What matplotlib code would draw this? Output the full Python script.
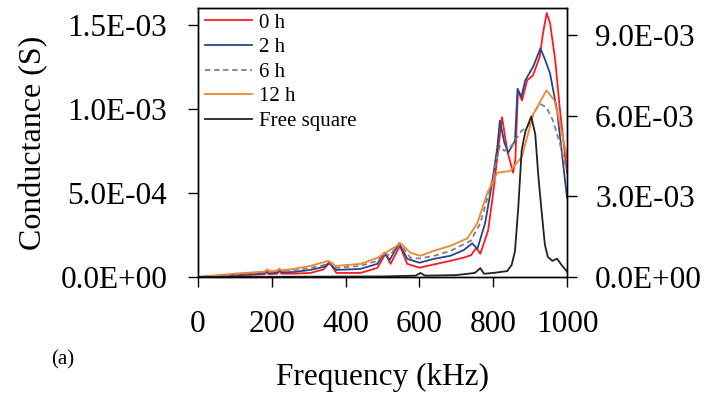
import numpy as np
import matplotlib
matplotlib.use("Agg")
import matplotlib.pyplot as plt
from matplotlib.ticker import FuncFormatter

plt.rcParams['font.family'] = ['Liberation Serif', 'DejaVu Serif']

# conductance on the left axis, values in 1E-04 S
freq_0h = [0, 100, 180, 186, 192, 215, 220, 226, 260, 305, 340, 357, 375, 440, 486, 508, 522, 547, 567, 600,
           640, 684, 720, 740, 754, 765, 786, 800, 814, 824, 838, 854, 860, 867, 878, 892, 908, 926, 935, 945,
           954, 968, 981, 1000]
g_0h = [0, 0.08, 0.16, 0.3, 0.16, 0.2, 0.35, 0.2, 0.2, 0.24, 0.45, 0.84, 0.24, 0.24, 0.54, 1.38, 0.78, 1.85, 0.78, 0.55,
        0.75, 0.96, 1.15, 1.3, 1.73, 1.38, 2.75, 5.0, 7.7, 9.5, 7.5, 6.2, 7.0, 11.1, 10.5, 11.7, 12.0, 13.1, 14.5, 15.7,
        15.1, 12.9, 9.9, 6.2]

freq_2h = [0, 100, 180, 186, 192, 215, 220, 226, 260, 305, 340, 355, 375, 440, 486, 505, 519, 545, 567, 600,
           640, 684, 720, 743, 757, 778, 797, 811, 818, 830, 841, 859, 866, 876, 887, 908, 928, 941, 954, 973, 1000]
g_2h = [0, 0.12, 0.22, 0.35, 0.22, 0.28, 0.42, 0.28, 0.3, 0.42, 0.6, 0.84, 0.42, 0.48, 0.78, 1.44, 1.0, 2.0, 1.08, 0.85,
        1.08, 1.26, 1.6, 2.0, 1.67, 3.2, 5.6, 7.7, 9.3, 8.0, 7.4, 8.1, 11.2, 10.7, 11.7, 12.5, 13.6, 12.9, 12.1, 9.9, 4.7]

freq_6h = [0, 100, 180, 186, 192, 215, 220, 226, 260, 305, 340, 355, 375, 440, 486, 505, 519, 545, 576, 600,
           640, 684, 739, 765, 792, 805, 818, 830, 850, 877, 892, 908, 926, 944, 962, 980, 1000]
g_6h = [0, 0.15, 0.28, 0.4, 0.28, 0.34, 0.48, 0.34, 0.38, 0.54, 0.7, 0.9, 0.54, 0.66, 0.96, 1.44, 1.26, 2.0, 1.14, 1.1,
        1.26, 1.55, 2.15, 3.2, 5.3, 6.6, 7.8, 7.5, 7.8, 8.7, 8.9, 9.7, 10.3, 10.1, 9.3, 8.0, 6.3]

freq_12h = [0, 100, 180, 189, 195, 215, 220, 226, 259, 305, 324, 354, 373, 441, 486, 508, 530, 549, 576, 603,
            638, 684, 730, 757, 784, 811, 846, 868, 877, 909, 944, 966, 981, 1000]
g_12h = [0, 0.2, 0.32, 0.45, 0.34, 0.38, 0.5, 0.4, 0.48, 0.66, 0.78, 0.96, 0.66, 0.78, 1.14, 1.44, 1.73, 2.0, 1.44, 1.26,
         1.55, 1.85, 2.3, 3.2, 5.0, 6.2, 6.3, 6.9, 7.1, 9.7, 11.1, 10.5, 9.1, 7.1]

# free square on the right axis, values in 1E-03 S
freq_free = [0, 500, 590, 603, 615, 700, 750, 765, 775, 800, 838, 850, 859, 868, 877, 887, 903, 914, 922, 930,
             940, 948, 960, 973, 985, 1000]
g_free = [0, 0.02, 0.05, 0.15, 0.05, 0.07, 0.15, 0.33, 0.12, 0.15, 0.22, 0.45, 0.96, 2.6, 4.7, 5.4, 5.96, 5.3, 3.8, 2.6,
          1.2, 0.75, 0.6, 0.68, 0.45, 0.2]

left_ticks = [0, 5e-4, 1e-3, 1.5e-3]
right_ticks = [0, 3e-3, 6e-3, 9e-3]
x_ticks = [0, 200, 400, 600, 800, 1000]

fig = plt.figure(figsize=(7.11, 3.97), dpi=100)
ax = fig.add_axes([0.2785, 0.3023, 0.519, 0.6776])
ax2 = ax.twinx()

lw = 1.3
l0, = ax.plot(freq_0h, np.array(g_0h) * 1e-4, color='#ff1a1a', lw=lw, label='0 h')
l2, = ax.plot(freq_2h, np.array(g_2h) * 1e-4, color='#27468a', lw=lw, label='2 h')
l6, = ax.plot(freq_6h, np.array(g_6h) * 1e-4, color='#808080', lw=lw, dashes=(3, 2), label='6 h')
l12, = ax.plot(freq_12h, np.array(g_12h) * 1e-4, color='#ef8535', lw=lw, label='12 h')
lf, = ax2.plot(freq_free, np.array(g_free) * 1e-3, color='#222222', lw=lw, label='Free square')

ax.set_xlim(0, 1000)
ax.set_ylim(0, 1.6e-3)
ax2.set_ylim(0, 1.0e-2)
ax.set_xticks(x_ticks)
ax.set_yticks(left_ticks)
ax2.set_yticks(right_ticks)

sci = FuncFormatter(lambda v, pos: '{:.1E}'.format(v))
ax.yaxis.set_major_formatter(sci)
ax2.yaxis.set_major_formatter(sci)

ax.tick_params(axis='x', direction='out', length=7.2, width=1, labelsize=22.5, pad=16.5)
ax.tick_params(axis='y', direction='out', length=7.2, width=1, labelsize=22.5, pad=15)
ax2.tick_params(axis='y', direction='out', length=7.2, width=1, labelsize=22.5, pad=13)
for a in (ax, ax2):
    for s in a.spines.values():
        s.set_linewidth(1)
        s.set_color('black')

ax.set_xlabel('Frequency (kHz)', fontsize=22.5, labelpad=17.5)
ax.set_ylabel('Conductance (S)', fontsize=23, labelpad=9)

ax2.legend(handles=[l0, l2, l6, l12, lf], loc='upper left', bbox_to_anchor=(0.02, 0.981), frameon=False,
           fontsize=15, borderpad=0, borderaxespad=0, handlelength=2.25, handletextpad=0.3, labelspacing=0.24)

fig.text(63 / 711, 1 - 360 / 397, '(a)', fontsize=15, ha='center', va='center')

fig.savefig('out.png', dpi=100)
